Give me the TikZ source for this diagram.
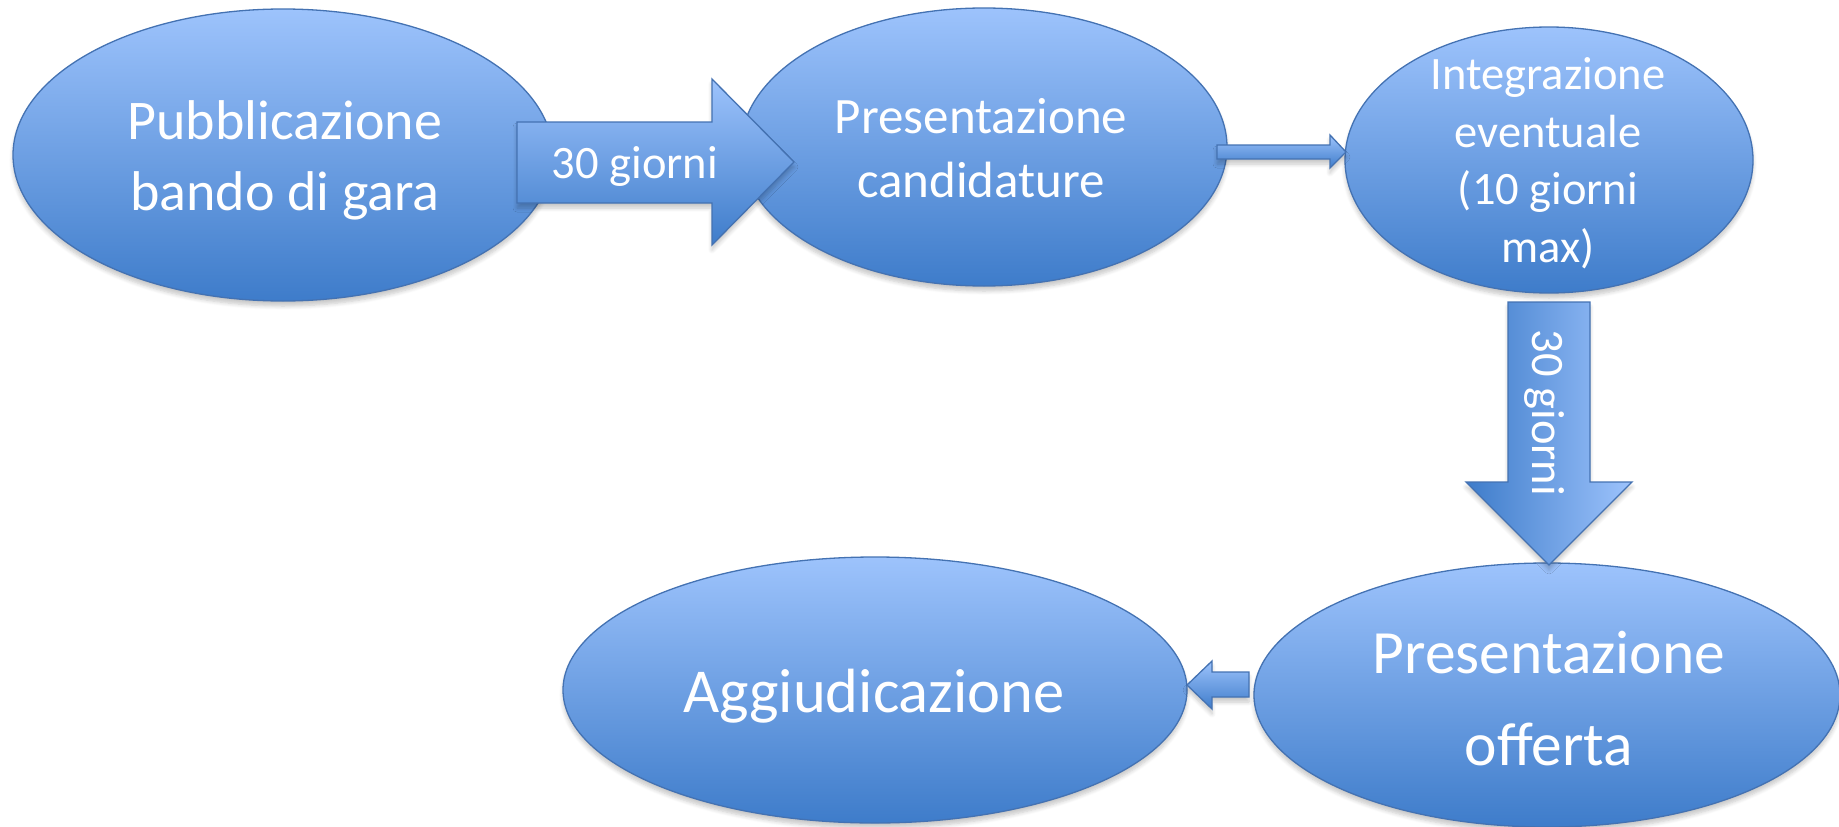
\documentclass[tikz,border=0pt]{standalone}
\usepackage{fontspec}
\setmainfont{Carlito}
\usetikzlibrary{shapes.geometric,shadows.blur}
\definecolor{topc}{RGB}{157,195,252}
\definecolor{botc}{RGB}{62,124,202}
\definecolor{edgec}{RGB}{68,114,178}
\tikzset{
  softshadow/.style={blur shadow={shadow xshift=0pt, shadow yshift=-5pt, shadow opacity=22, shadow blur steps=6, shadow blur radius=4pt}},
  bub/.style={ellipse, draw=edgec, line width=1.3pt, top color=topc, bottom color=botc, inner sep=0pt, softshadow},
  blk/.style={draw=edgec, line width=1.3pt, top color=topc, bottom color=botc, line join=miter, softshadow},
  blkv/.style={draw=edgec, line width=1.3pt, left color=botc, right color=topc, line join=miter, softshadow},
  lbl/.style={text=white, inner sep=0pt, anchor=base},
}
\begin{document}
\begin{tikzpicture}[x=1pt,y=-1pt]
\useasboundingbox (0,0) rectangle (1839,827);
% bubbles
\node[bub, minimum width=540, minimum height=292] (e1) at (283,155) {};
\node[bub, minimum width=486, minimum height=278] (e2) at (984,147) {};
\node[bub, minimum width=408, minimum height=266] (e3) at (1549,160) {};
\node[bub, minimum width=624, minimum height=266] (e4) at (875,690) {};
\node[bub, minimum width=586, minimum height=264] (e5) at (1547,695) {};
% block arrows
\coordinate (a1s) at (517,162);
\coordinate (a1e) at (794,162);
\path[blk] (517,122) -- (712,122) -- (712,79) -- (a1e) -- (712,245) -- (712,203) -- (517,203) -- cycle;
\coordinate (a2s) at (1217,152);
\coordinate (a2e) at (1346,152);
\path[blk] (1217,145) -- (1330,145) -- (1330,135) -- (a2e) -- (1330,168) -- (1330,159) -- (1217,159) -- cycle;
\coordinate (a3s) at (1549,302);
\coordinate (a3e) at (1549,565);
\path[blkv] (1508,302) -- (1590,302) -- (1590,482) -- (1632,482) -- (a3e) -- (1466,482) -- (1508,482) -- cycle;
\coordinate (a4s) at (1249,685);
\coordinate (a4e) at (1187,685);
\path[blk] (1249,672) -- (1212,672) -- (1212,661) -- (a4e) -- (1212,709) -- (1212,697) -- (1249,697) -- cycle;
% texts
\begin{scope}[every node/.style={lbl}]
\node[font=\fontsize{56}{67}\selectfont] (t1a) at (285,139) {Pubblicazione};
\node[font=\fontsize{56}{67}\selectfont] (t1b) at (285,210) {bando di gara};
\node[font=\fontsize{51}{62}\selectfont] (t2a) at (981,133) {Presentazione};
\node[font=\fontsize{51}{62}\selectfont] (t2b) at (981,197) {candidature};
\node[font=\fontsize{46.5}{57}\selectfont] (t3a) at (1548,89) {Integrazione};
\node[font=\fontsize{46.5}{57}\selectfont] (t3b) at (1548,147) {eventuale};
\node[font=\fontsize{46.5}{57}\selectfont] (t3c) at (1548,204) {(10 giorni};
\node[font=\fontsize{46.5}{57}\selectfont] (t3d) at (1548,262) {max)};
\node[font=\fontsize{62.5}{75}\selectfont] (t4) at (874,712) {Aggiudicazione};
\node[font=\fontsize{61.5}{75}\selectfont] (t5a) at (1549,673) {Presentazione};
\node[font=\fontsize{61.5}{75}\selectfont] (t5b) at (1549,765) {offerta};
\node[font=\fontsize{46.5}{57}\selectfont] (l1) at (635,178) {30 giorni};
\node[font=\fontsize{46.5}{57}\selectfont, rotate=-90] (l3) at (1532,413) {30 giorni};
\end{scope}
\end{tikzpicture}
\end{document}
